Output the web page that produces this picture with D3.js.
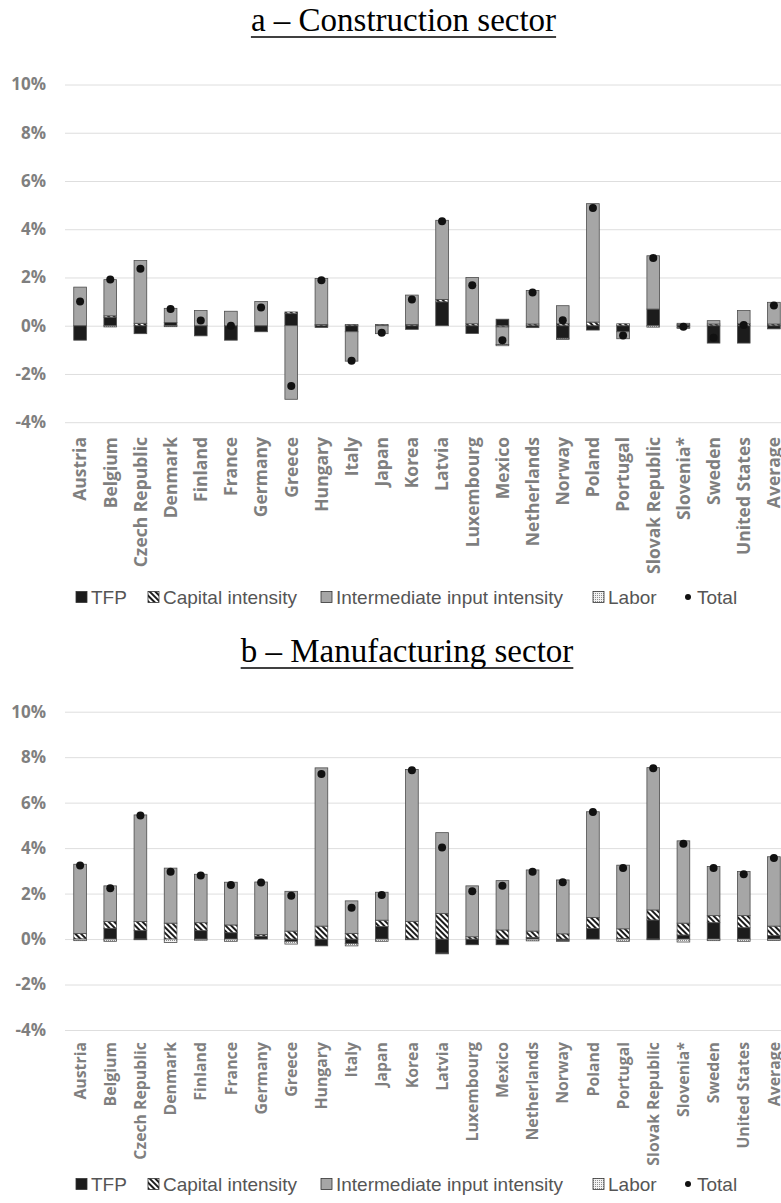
<!DOCTYPE html>
<html>
<head>
<meta charset="utf-8">
<script src="https://cdn.jsdelivr.net/npm/d3@7"></script>
<style>
  body { margin: 0; background: #fff; }
  svg { display: block; }
</style>
</head>
<body>
<div class="content"></div>
<script>
(function() {

  // Categories
  var countries = ['Austria', 'Belgium', 'Czech Republic', 'Denmark', 'Finland', 'France', 'Germany',
    'Greece', 'Hungary', 'Italy', 'Japan', 'Korea', 'Latvia', 'Luxembourg', 'Mexico', 'Netherlands',
    'Norway', 'Poland', 'Portugal', 'Slovak Republic', 'Slovenia*', 'Sweden', 'United States', 'Average'];
  var seriesNames = ['TFP', 'Capital intensity', 'Intermediate input intensity', 'Labor'];
  var yTicks = [-4, -2, 0, 2, 4, 6, 8, 10];

  // a - Construction sector (percent)
  var conTFP   = [-0.60, 0.35, -0.33, 0.13, -0.42, -0.60, -0.25, 0.50, -0.07, -0.25, 0.00, -0.15, 0.99, -0.32, 0.27, -0.08, -0.52, -0.18, -0.25, 0.69, -0.08, -0.72, -0.72, -0.13];
  var conCap   = [0.00, 0.06, 0.10, 0.00, 0.00, 0.00, 0.00, 0.07, 0.05, 0.05, 0.05, 0.05, 0.10, 0.08, -0.05, 0.07, 0.08, 0.15, 0.08, 0.00, 0.04, 0.07, 0.08, 0.07];
  var conInt   = [1.60, 1.50, 2.60, 0.59, 0.63, 0.60, 1.00, -3.05, 1.91, -1.22, -0.33, 1.22, 3.28, 1.92, -0.73, 1.39, 0.75, 4.91, -0.29, 2.21, 0.06, 0.14, 0.55, 0.90];
  var conLab   = [0.00, -0.05, 0.00, -0.04, 0.00, 0.00, 0.00, 0.00, 0.00, 0.00, 0.00, 0.00, 0.00, 0.00, -0.05, 0.00, -0.05, 0.00, 0.00, -0.06, -0.03, 0.00, 0.00, 0.00];
  var conTotal = [1.00, 1.92, 2.36, 0.69, 0.22, 0.00, 0.76, -2.50, 1.88, -1.45, -0.29, 1.09, 4.33, 1.68, -0.60, 1.38, 0.23, 4.88, -0.41, 2.81, -0.04, -0.50, 0.03, 0.84];

  // b - Manufacturing sector (percent)
  var manTFP   = [0.00, 0.47, 0.37, 0.00, 0.37, 0.28, 0.13, -0.10, -0.30, -0.20, 0.55, 0.00, -0.62, -0.25, -0.25, 0.07, -0.08, 0.47, 0.03, 0.84, 0.18, 0.72, 0.50, 0.15];
  var manCap   = [0.25, 0.30, 0.40, 0.70, 0.35, 0.34, 0.07, 0.35, 0.57, 0.25, 0.28, 0.78, 1.13, 0.10, 0.40, 0.28, 0.23, 0.48, 0.42, 0.44, 0.52, 0.31, 0.53, 0.42];
  var manInt   = [3.04, 1.57, 4.69, 2.42, 2.13, 1.88, 2.31, 1.75, 6.96, 1.43, 1.23, 6.68, 3.55, 2.24, 2.17, 2.69, 2.37, 4.65, 2.80, 6.26, 3.62, 2.16, 1.94, 3.05];
  var manLab   = [-0.07, -0.10, -0.03, -0.15, -0.05, -0.10, 0.00, -0.12, 0.00, -0.10, -0.10, -0.03, -0.03, 0.00, 0.00, -0.08, -0.02, 0.00, -0.10, -0.03, -0.13, -0.07, -0.10, -0.06];
  var manTotal = [3.23, 2.24, 5.43, 2.96, 2.80, 2.38, 2.49, 1.90, 7.26, 1.38, 1.94, 7.43, 4.03, 2.10, 2.34, 2.96, 2.50, 5.59, 3.12, 7.51, 4.19, 3.12, 2.85, 3.56];

  // Design Variables
  var width = 781;
  var height = 1203;
  var xLeft = 65;
  var xRight = 789;   // plot runs a little past the window edge, like the original crop
  var axisGray = '#7f7f7f';
  var textGray = '#555';
  var fills = ['#1c1c1c', 'url(#hatch)', '#a6a6a6', 'url(#dots)'];

  var svg = d3.select('.content').append('svg')
      .attr('width', width)
      .attr('height', height);

  var defs = svg.append('defs');

  var hatch = defs.append('pattern')
      .attr('id', 'hatch')
      .attr('patternUnits', 'userSpaceOnUse')
      .attr('width', 4)
      .attr('height', 4)
      .attr('patternTransform', 'rotate(-45)');
  hatch.append('rect').attr('width', 4).attr('height', 4).attr('fill', '#fff');
  hatch.append('rect').attr('width', 2).attr('height', 4).attr('fill', '#1c1c1c');

  var dots = defs.append('pattern')
      .attr('id', 'dots')
      .attr('patternUnits', 'userSpaceOnUse')
      .attr('width', 2)
      .attr('height', 2);
  dots.append('rect').attr('width', 2).attr('height', 2).attr('fill', '#f2f2f2');
  dots.append('rect').attr('width', 1).attr('height', 1).attr('fill', '#8c8c8c');

  var x = d3.scaleBand()
      .domain(countries)
      .range([xLeft, xRight])
      .paddingInner(0.58)
      .paddingOuter(0.29);

  function drawTitle(label, cx, baseline) {
    var t = svg.append('text')
        .attr('x', cx)
        .attr('y', baseline)
        .attr('text-anchor', 'middle')
        .style('font-family', '"Liberation Serif", "Times New Roman", serif')
        .style('font-size', '33px')
        .attr('fill', '#000')
        .text(label);
    var w = t.node().getComputedTextLength();
    svg.append('line')
        .attr('x1', cx - w / 2)
        .attr('x2', cx + w / 2)
        .attr('y1', baseline + 6)
        .attr('y2', baseline + 6)
        .attr('stroke', '#000')
        .attr('stroke-width', 1.6);
  }

  function drawPanel(p) {
    var y = d3.scaleLinear()
        .domain([-4, 10])
        .range([p.bottom, p.top]);

    var g = svg.append('g');

    // Gridlines and tick labels
    var yAxis = g.append('g')
        .attr('transform', 'translate(' + xLeft + ',0)')
        .call(d3.axisLeft(y)
          .tickValues(yTicks)
          .tickSize(-(xRight - xLeft))
          .tickPadding(19)
          .tickFormat(function(d) { return d + '%'; }));
    yAxis.select('.domain').remove();
    yAxis.selectAll('line').attr('stroke', '#dedede').attr('stroke-width', 1);
    yAxis.selectAll('text')
        .attr('fill', axisGray)
        .style('font-family', '"Open Sans", sans-serif')
        .style('font-weight', 'bold')
        .style('font-size', p.tickFont + 'px');

    // Stacked bars
    var rows = countries.map(function(c, i) {
      return { country: c, s0: p.tfp[i], s1: p.cap[i], s2: p.int[i], s3: p.lab[i] };
    });
    var stack = d3.stack()
        .keys(['s0', 's1', 's2', 's3'])
        .offset(d3.stackOffsetDiverging);
    var layers = stack(rows);

    g.selectAll('.layer')
        .data(layers)
        .enter()
        .append('g')
        .attr('class', 'layer')
        .attr('fill', function(d, i) { return fills[i]; })
        .selectAll('rect')
        .data(function(d) { return d.filter(function(s) { return s[1] !== s[0]; }); })
        .enter()
        .append('rect')
        .attr('x', function(d) { return x(d.data.country); })
        .attr('width', x.bandwidth())
        .attr('y', function(d) { return y(Math.max(d[0], d[1])); })
        .attr('height', function(d) { return Math.abs(y(d[0]) - y(d[1])); })
        .attr('stroke', '#4d4d4d')
        .attr('stroke-width', 0.8);

    // Total markers
    g.selectAll('.total')
        .data(p.total)
        .enter()
        .append('circle')
        .attr('class', 'total')
        .attr('cx', function(d, i) { return x(countries[i]) + x.bandwidth() / 2; })
        .attr('cy', function(d) { return y(d); })
        .attr('r', 4)
        .attr('fill', '#111');

    // Category labels
    g.selectAll('.cat')
        .data(countries)
        .enter()
        .append('text')
        .attr('class', 'cat')
        .attr('transform', function(d) {
          return 'translate(' + (x(d) + x.bandwidth() / 2) + ',' + p.labelTop + ') rotate(-90)';
        })
        .attr('dy', '0.36em')
        .attr('text-anchor', 'end')
        .attr('fill', axisGray)
        .style('font-family', '"Open Sans", sans-serif')
        .style('font-weight', 'bold')
        .style('font-size', p.catFont + 'px')
        .text(function(d) { return d; });

    drawLegend(p.legendY);
  }

  function drawLegend(ly) {
    var items = [
      { label: seriesNames[0], fill: fills[0], x: 76 },
      { label: seriesNames[1], fill: fills[1], x: 148 },
      { label: seriesNames[2], fill: fills[2], x: 321 },
      { label: seriesNames[3], fill: fills[3], x: 593 },
      { label: 'Total', fill: null, x: 683 }
    ];
    var legend = svg.append('g');
    var item = legend.selectAll('g')
        .data(items)
        .enter()
        .append('g')
        .attr('transform', function(d) { return 'translate(' + d.x + ',' + ly + ')'; });

    item.each(function(d) {
      var it = d3.select(this);
      if (d.fill) {
        it.append('rect')
          .attr('x', 0)
          .attr('y', -5.5)
          .attr('width', 11)
          .attr('height', 11)
          .attr('fill', d.fill)
          .attr('stroke', '#333')
          .attr('stroke-width', 0.8);
      } else {
        it.append('circle')
          .attr('cx', 5)
          .attr('cy', 0)
          .attr('r', 3)
          .attr('fill', '#111');
      }
      it.append('text')
        .attr('x', d.fill ? 15 : 14)
        .attr('y', 0)
        .attr('dy', '0.35em')
        .attr('fill', textGray)
        .style('font-family', '"Liberation Sans Narrow", "Arial Narrow", sans-serif')
        .style('font-size', '19px')
        .text(d.label);
    });
  }

  drawTitle('a \u2013 Construction sector', 403.5, 31);
  drawPanel({
    top: 84.5, bottom: 422.2, labelTop: 437, legendY: 597, tickFont: 17, catFont: 17.5,
    tfp: conTFP, cap: conCap, int: conInt, lab: conLab, total: conTotal
  });

  drawTitle('b \u2013 Manufacturing sector', 407, 662);
  drawPanel({
    top: 711.7, bottom: 1030, labelTop: 1042, legendY: 1184, tickFont: 17, catFont: 15.8,
    tfp: manTFP, cap: manCap, int: manInt, lab: manLab, total: manTotal
  });

})();
</script>
</body>
</html>
